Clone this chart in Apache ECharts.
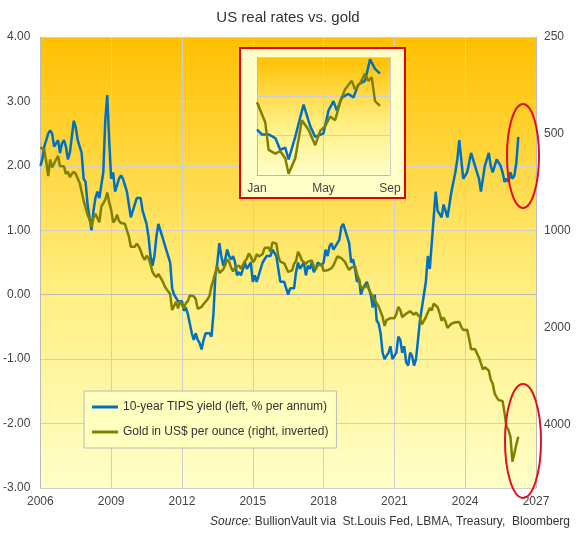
<!DOCTYPE html>
<html><head><meta charset="utf-8">
<script src="https://cdn.jsdelivr.net/npm/echarts@6/dist/echarts.min.js"></script>
<style>html,body{margin:0;padding:0;background:#fff}#c{width:576px;height:536px}</style>
</head><body><div id="c"></div>
<script>
const startYear = 2006;
const tipsYield = [
2.0,2.1,2.3,2.4,2.5,2.55,2.5,2.3,2.35,2.4,2.2,2.35,
2.4,2.3,2.1,2.2,2.45,2.7,2.6,2.4,2.3,2.2,1.8,1.75,
1.4,1.2,1.0,1.3,1.5,1.6,1.5,1.7,1.9,2.7,3.1,2.4,
1.8,1.9,1.6,1.6,1.8,1.85,1.8,1.7,1.6,1.4,1.2,1.3,
1.4,1.5,1.5,1.5,1.3,1.2,1.1,0.9,0.6,0.45,0.6,0.9,
1.1,1.1,0.9,0.8,0.7,0.6,0.5,0.1,0.0,0.0,-0.1,-0.1,
-0.1,-0.25,-0.2,-0.3,-0.45,-0.6,-0.7,-0.6,-0.7,-0.75,-0.85,-0.7,
-0.6,-0.6,-0.6,-0.65,-0.3,0.3,0.5,0.8,0.6,0.45,0.55,0.7,
0.6,0.55,0.6,0.5,0.3,0.35,0.3,0.3,0.5,0.4,0.45,0.5,
0.2,0.3,0.2,0.2,0.4,0.5,0.5,0.6,0.6,0.6,0.7,0.7,
0.6,0.4,0.2,0.2,0.2,0.1,0.0,0.1,0.1,0.1,0.35,0.5,
0.4,0.4,0.5,0.3,0.45,0.4,0.5,0.35,0.4,0.5,0.5,0.45,
0.5,0.7,0.6,0.75,0.8,0.7,0.75,0.75,0.85,1.05,1.1,1.0,
0.9,0.8,0.5,0.55,0.4,0.2,0.25,0.0,0.1,0.15,0.2,0.1,
0.0,-0.2,0.0,-0.4,-0.45,-0.6,-0.9,-1.0,-0.95,-0.9,-0.8,-1.0,
-1.0,-0.9,-0.65,-0.7,-0.9,-0.8,-1.05,-1.1,-0.9,-0.95,-1.1,-1.0,
-0.7,-0.4,-0.4,0.0,0.2,0.6,0.4,0.4,1.2,1.6,1.3,1.3,
1.2,1.4,1.3,1.2,1.4,1.6,1.6,1.9,2.1,2.4,2.1,1.8,
1.8,1.9,1.9,2.2,2.1,2.0,1.9,1.8,1.6,1.8,2.0,2.1,
2.2,2.0,1.9,2.0,2.1,2.1,2.0,1.9,1.75,1.8,1.75,1.9,
1.8,1.85,2.05,2.45
];
const goldUsd = [
550,555,560,610,675,600,635,630,600,585,630,630,
630,665,655,680,665,655,665,665,710,755,805,805,
890,920,970,910,885,890,940,840,830,800,760,815,
860,940,925,890,930,945,935,950,995,1040,1120,1130,
1120,1095,1115,1150,1200,1230,1195,1215,1270,1340,1370,1390,
1360,1375,1425,1475,1510,1530,1570,1760,1770,1660,1740,1650,
1655,1740,1675,1650,1585,1595,1595,1625,1745,1745,1720,1685,
1670,1630,1590,1485,1415,1345,1285,1350,1350,1315,1275,1225,
1245,1300,1335,1300,1290,1280,1310,1295,1240,1220,1175,1200,
1250,1230,1180,1200,1195,1180,1130,1120,1125,1160,1085,1070,
1095,1200,1245,1245,1260,1275,1340,1340,1325,1265,1240,1160,
1190,1235,1230,1265,1245,1260,1235,1285,1315,1280,1285,1265,
1330,1330,1325,1335,1305,1280,1240,1200,1200,1215,1220,1250,
1290,1320,1300,1285,1285,1360,1415,1500,1510,1495,1470,1480,
1560,1600,1590,1680,1715,1730,1845,1970,1890,1900,1865,1860,
1865,1810,1720,1760,1850,1835,1805,1785,1775,1775,1820,1790,
1815,1855,1950,1935,1850,1835,1735,1765,1680,1665,1725,1800,
1900,1855,1910,2000,1990,1940,1950,1920,1915,1915,1985,2030,
2030,2025,2160,2330,2350,2325,2400,2470,2570,2690,2650,2650,
2710,2895,2980,3200,3280,3350,3350,3370,3670,4050,4150,4350,
5200,4900,4600,4350
];
const xTicks = [2006,2009,2012,2015,2018,2021,2024,2027];
const rightTickLabels = [250,500,1000,2000,4000];
const insetMonths = ['Jan','','','','May','','','','Sep'];
const insetBlueX = [0,0.3,0.7,1.1,1.4,1.7,1.9,2.3,2.8,3.2,3.5,4.0,4.3,4.6,4.8,5.1,5.5,5.8,6.1,6.5,6.8,7.1,7.4];
const insetBlueY = [38,34,34,31,21,23,13,32,59,41,32,35,54,62,54,65,68,65,76,79,97,89,85];
const insetGoldX = [0,0.5,0.7,1.1,1.4,1.7,1.9,2.3,2.7,3.1,3.5,3.8,4.1,4.4,4.7,5.0,5.3,5.7,5.9,6.2,6.5,6.7,6.9,7.1,7.4];
const insetGoldY = [61,44,21,18,20,14,1,14,46,38,25,37,41,49,46,61,72,79,72,77,85,79,82,62,58];

const BLUE='#0070C0', OLIVE='#808000';
const tData = tipsYield.map((v,i)=>[startYear+i/12, v]);
const gData = goldUsd.map((v,i)=>[startYear+i/12, Math.log2(v/250)]);
const bg = {type:'linear',x:0,y:0,x2:0,y2:1,colorStops:[{offset:0,color:'#FFC000'},{offset:0.55,color:'#FFEE80'},{offset:1,color:'#FFFFC8'}]};
const lab = {color:'#444',fontSize:12,fontFamily:'Liberation Sans, Arial'};
const gridLine = {show:true,lineStyle:{color:'#cfcfcf'}};
const chart = echarts.init(document.getElementById('c'));
chart.setOption({
  animation:false,
  title:{text:'US real rates vs. gold',left:'center',top:5,textStyle:{color:'#333',fontSize:15,fontWeight:'normal',fontFamily:'Liberation Sans, Arial'}},
  grid:[{left:40,right:40,top:37,height:451,show:true,backgroundColor:bg,borderWidth:0},
        {left:257,top:57,width:133,height:118,show:true,backgroundColor:bg,borderWidth:0,z:10}],
  xAxis:[{type:'value',gridIndex:0,min:2006,max:2027,interval:3,axisLine:{show:true,lineStyle:{color:'#bbb'}},axisTick:{show:false},
          axisLabel:Object.assign({margin:8,formatter:v=>String(v)},lab),splitLine:gridLine},
         {type:'value',gridIndex:1,min:0,max:8,interval:4,axisLine:{show:true,lineStyle:{color:'#bbb'}},axisTick:{show:false},z:10,
          axisLabel:Object.assign({margin:8,formatter:v=>insetMonths[v]},lab),splitLine:gridLine}],
  yAxis:[{type:'value',gridIndex:0,min:-3,max:4,interval:1,axisLine:{show:true,lineStyle:{color:'#bbb'}},axisTick:{show:false},
          axisLabel:Object.assign({formatter:v=>v.toFixed(2),margin:10},lab),splitLine:gridLine},
         {type:'value',gridIndex:0,position:'right',inverse:true,min:0,max:4.65,interval:1,axisLine:{show:true,lineStyle:{color:'#bbb'}},axisTick:{show:false},
          axisLabel:Object.assign({showMaxLabel:false,margin:8,formatter:v=>String(rightTickLabels[Math.round(v)]||'')},lab),splitLine:{show:false}},
         {type:'value',gridIndex:1,min:0,max:99,interval:33,axisLine:{show:true,lineStyle:{color:'#bbb'}},axisTick:{show:false},axisLabel:{show:false},z:10,
          splitLine:gridLine}],
  legend:{orient:'vertical',left:84,top:391,itemGap:13,padding:[10,8,10,8],borderColor:'#bbb',borderWidth:1,backgroundColor:'#FFFFC0',
    itemWidth:26,itemHeight:3,icon:'rect',textStyle:{color:'#333',fontSize:12,fontFamily:'Liberation Sans, Arial'},
    data:['10-year TIPS yield (left, % per annum)','Gold in US$ per ounce (right, inverted)']},
  series:[
    {name:'10-year TIPS yield (left, % per annum)',type:'line',xAxisIndex:0,yAxisIndex:0,data:tData,showSymbol:false,lineStyle:{color:BLUE,width:2.5},itemStyle:{color:BLUE}},
    {name:'Gold in US$ per ounce (right, inverted)',type:'line',xAxisIndex:0,yAxisIndex:1,data:gData,showSymbol:false,lineStyle:{color:OLIVE,width:2.5},itemStyle:{color:OLIVE}},
    {type:'line',xAxisIndex:1,yAxisIndex:2,z:12,data:insetBlueX.map((x,i)=>[x,insetBlueY[i]]),showSymbol:false,lineStyle:{color:BLUE,width:2.5}},
    {type:'line',xAxisIndex:1,yAxisIndex:2,z:12,data:insetGoldX.map((x,i)=>[x,insetGoldY[i]]),showSymbol:false,lineStyle:{color:OLIVE,width:2.5}}
  ],
  graphic:[
    {type:'rect',z:5,shape:{x:240,y:48,width:165,height:150},style:{fill:'#FFFFC8',stroke:'#E00000',lineWidth:2}},
    {type:'ellipse',z:20,shape:{cx:523,cy:156,rx:16,ry:52},style:{fill:null,stroke:'#E01020',lineWidth:2}},
    {type:'ellipse',z:20,shape:{cx:523,cy:441,rx:18,ry:57},style:{fill:null,stroke:'#E01020',lineWidth:2}},
    {type:'text',right:6,top:516,style:{text:'{i|Source:} BullionVault via  St.Louis Fed, LBMA, Treasury,  Bloomberg',
      rich:{i:{fontStyle:'italic',fontSize:12,fill:'#333',fontFamily:'Liberation Sans, Arial'}},fontSize:12,fill:'#333',fontFamily:'Liberation Sans, Arial'}}
  ]
});
</script></body></html>
